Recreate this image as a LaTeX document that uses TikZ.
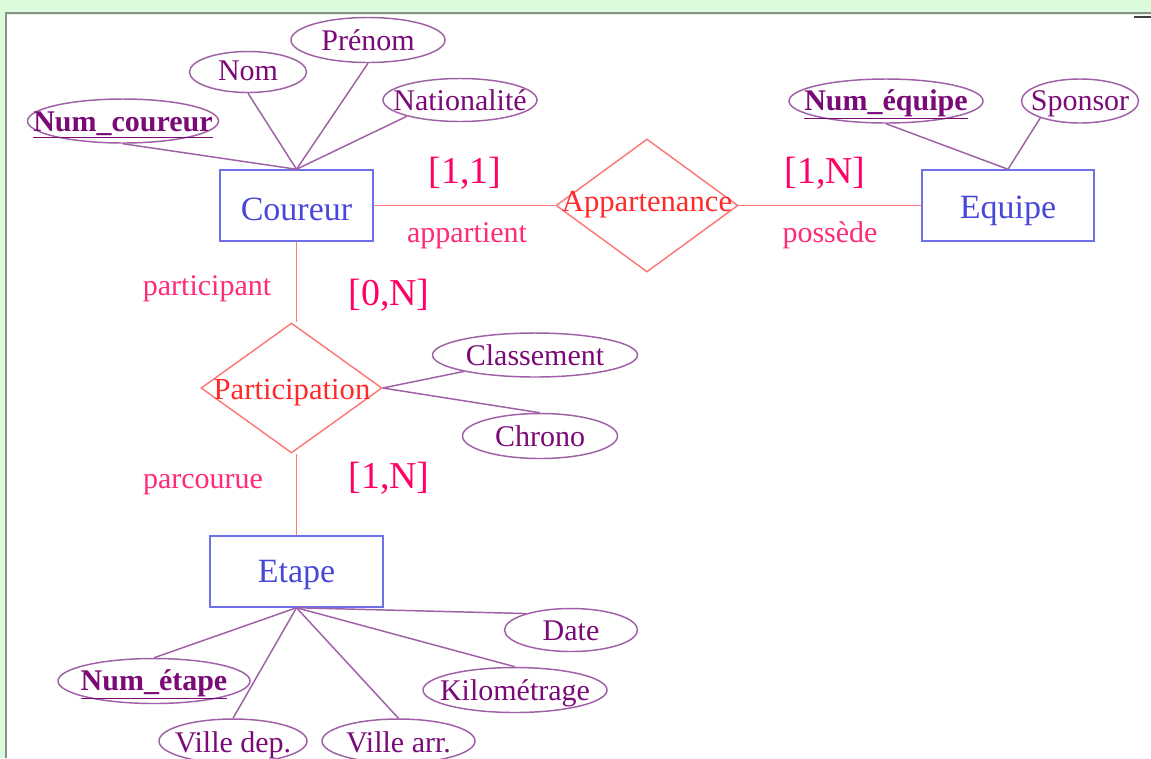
\documentclass[tikz,border=0pt]{standalone}
\usepackage{fontspec}
\setmainfont{Liberation Serif}
\usetikzlibrary{shapes.geometric}
\definecolor{entblue}{HTML}{4848D8}
\definecolor{entline}{HTML}{7070E8}
\definecolor{atttext}{HTML}{7A0A78}
\definecolor{attline}{HTML}{A060A8}
\definecolor{relline}{HTML}{FF7878}
\definecolor{reltext}{HTML}{FF2A2A}
\definecolor{cardcol}{HTML}{FF0066}
\definecolor{rolecol}{HTML}{FF2A78}
\definecolor{framegreen}{HTML}{DCFADC}
\definecolor{framegray}{HTML}{8A8F8A}
\tikzset{
  entity/.style 2 args={draw=entline, line width=1.1pt, rectangle,
    minimum width=#1*0.75pt, minimum height=#2*0.75pt, inner sep=0pt},
  enttext/.style={text=entblue, inner sep=0pt, anchor=base,
    font=\fontsize{25.5}{28}\selectfont},
  attr/.style 2 args={draw=attline, line width=1.1pt, ellipse,
    minimum width=#1*0.75pt, minimum height=#2*0.75pt, inner sep=0pt},
  atttxt/.style={text=atttext, inner sep=0pt, anchor=base,
    font=\fontsize{22.5}{25}\selectfont},
  relshape/.style 2 args={draw=relline, line width=1.1pt, diamond, aspect=1,
    minimum width=#1*0.75pt, minimum height=#2*0.75pt, inner sep=0pt},
  rellabel/.style={text=reltext, inner sep=0pt, anchor=base,
    font=\fontsize{23}{25}\selectfont},
  card/.style={text=cardcol, inner sep=0pt, anchor=base,
    font=\fontsize{28.5}{30}\selectfont},
  role/.style={text=rolecol, inner sep=0pt, anchor=base,
    font=\fontsize{22.5}{25}\selectfont},
  rellink/.style={draw=relline, line width=1.1pt},
  attlink/.style={draw=attline, line width=1.1pt},
}
\begin{document}
\begin{tikzpicture}[x=0.75pt,y=-0.75pt]
\useasboundingbox (0,0) rectangle (1151,758);
\clip (0,0) rectangle (1151,758);
% frame
\fill[framegreen] (0,0) rectangle (1151,758);
\fill[white] (7,15) rectangle (1151,758);
\draw[framegray, line width=1.5pt] (5.5,758) -- (5.5,12.5) -- (1151,12.5);
\draw[black!75, line width=1.5pt] (1134,16.5) -- (1151,16.5);

% entities
\node[entity={153}{71}] (coureur) at (296.5,205.5) {};
\node[enttext] (coureurt) at (296.5,220) {Coureur};
\node[entity={172}{71}] (equipe) at (1008,205.5) {};
\node[enttext] (equipet) at (1008,218) {Equipe};
\node[entity={173}{71}] (etape) at (296.5,571.5) {};
\node[enttext] (etapet) at (296.5,582) {Etape};

% relationships
\node[relshape={182}{133}] (app) at (647,205.5) {};
\node[rellabel] (applab) at (647,211) {Appartenance};
\node[relshape={181}{130}] (part) at (291.5,388) {};
\node[rellabel] (partlab) at (292,399) {Participation};

% attributes
\node[attr={191}{44}] (nc) at (123,121) {};
\node[atttxt] (nct) at (123,131) {\underline{\textbf{Num\_coureur}}};
\node[attr={117}{41}] (nom) at (248,72) {};
\node[atttxt] (nomt) at (248,80) {Nom};
\node[attr={154}{45}] (pre) at (368,40) {};
\node[atttxt] (pret) at (368,50) {Prénom};
\node[attr={154}{43}] (nat) at (460,100) {};
\node[atttxt] (natt) at (460,110) {Nationalité};
\node[attr={194}{44}] (neq) at (886,101) {};
\node[atttxt] (neqt) at (886,110) {\underline{\textbf{Num\_équipe}}};
\node[attr={117}{44}] (sp) at (1080,101) {};
\node[atttxt] (spt) at (1080,110) {Sponsor};
\node[attr={205}{44}] (cl) at (535,355) {};
\node[atttxt] (clt) at (535,365) {Classement};
\node[attr={155}{45}] (ch) at (540,436) {};
\node[atttxt] (cht) at (540,446) {Chrono};
\node[attr={133}{43}] (dt) at (571,630) {};
\node[atttxt] (dtt) at (571,640) {Date};
\node[attr={192}{45}] (ne) at (154,681) {};
\node[atttxt] (net) at (154,690) {\underline{\textbf{Num\_étape}}};
\node[attr={184}{45}] (km) at (515,690) {};
\node[atttxt] (kmt) at (515,700) {Kilométrage};
\node[attr={148}{44}] (vd) at (233,741) {};
\node[atttxt] (vdt) at (233,752) {Ville dep.};
\node[attr={153}{44}] (va) at (398.5,741) {};
\node[atttxt] (vat) at (398.5,752) {Ville arr.};

% relationship links
\draw[rellink] (coureur.east) -- (app.west);
\draw[rellink] (app.east) -- (equipe.west);
\draw[rellink] (coureur.south) -- (coureur.south |- part.north);
\draw[rellink] (etape.north |- part.south) -- (etape.north);

% attribute links
\draw[attlink] (coureur.north) -- (nc.south);
\draw[attlink] (coureur.north) -- (nom.south);
\draw[attlink] (coureur.north) -- (pre.south);
\draw[attlink] (coureur.north) -- (nat.-163);
\draw[attlink] (equipe.north) -- (neq.south);
\draw[attlink] (equipe.north) -- (sp.-157);
\draw[attlink] (part.east) -- (cl.-167);
\draw[attlink] (part.east) -- (ch.north);
\draw[attlink] (etape.south) -- (dt.160);
\draw[attlink] (etape.south) -- (ne.north);
\draw[attlink] (etape.south) -- (vd.north);
\draw[attlink] (etape.south) -- (va.north);
\draw[attlink] (etape.south) -- (km.north);

% cardinalities and roles
\node[card] (c11) at (465,183) {[1,1]};
\node[card] (c1n) at (825,183) {[1,N]};
\node[role] (r1) at (467,242) {appartient};
\node[role] (r2) at (830,242) {possède};
\node[role] (r3) at (207,295) {participant};
\node[card] (c0n) at (389,305) {[0,N]};
\node[role] (r4) at (203,488) {parcourue};
\node[card] (c1n2) at (389,488) {[1,N]};
\end{tikzpicture}
\end{document}
